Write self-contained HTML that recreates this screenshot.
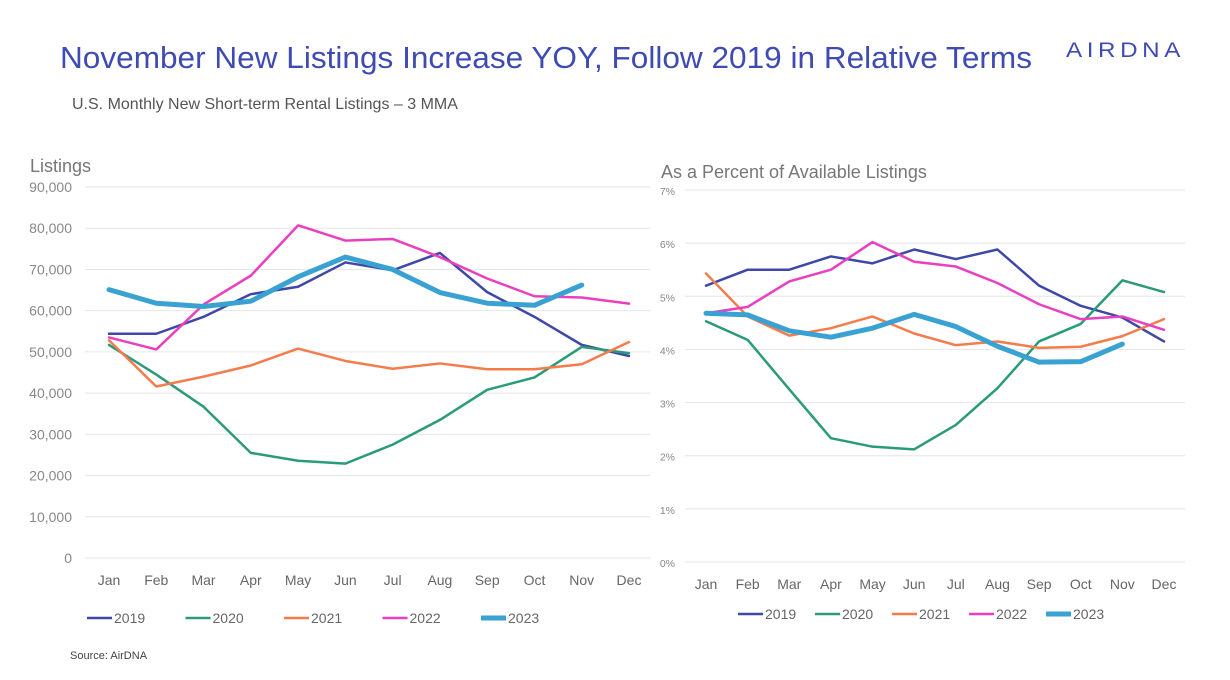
<!DOCTYPE html>
<html><head><meta charset="utf-8"><style>
body{margin:0;width:1230px;height:675px;background:#fff;font-family:"Liberation Sans",sans-serif;overflow:hidden}
svg text{font-family:"Liberation Sans",sans-serif}
</style></head><body>
<svg id="c" width="1230" height="675" xmlns="http://www.w3.org/2000/svg">
<text x="60" y="68" font-size="31" fill="#3e4bb3" textLength="972" lengthAdjust="spacingAndGlyphs">November New Listings Increase YOY, Follow 2019 in Relative Terms</text>
<text x="1066" y="57" font-size="21" fill="#3e4bb3" letter-spacing="4" textLength="119" lengthAdjust="spacingAndGlyphs">AIRDNA</text>
<text x="72" y="109" font-size="16" fill="#555">U.S. Monthly New Short-term Rental Listings – 3 MMA</text>
<text x="30" y="172" font-size="18" fill="#777">Listings</text>
<text x="661" y="178" font-size="18" fill="#777">As a Percent of Available Listings</text>
<text x="70" y="659" font-size="11" fill="#444">Source: AirDNA</text>
<g id="L"></g><g id="R"></g>
</svg>
<script>
const months=["Jan","Feb","Mar","Apr","May","Jun","Jul","Aug","Sep","Oct","Nov","Dec"];
const years=["2019","2020","2021","2022","2023"];
const colors=["#3f48a8","#2a9b78","#f47c4c","#ea3fc0","#3aa2d2"];
const widths=[2.5,2.5,2.5,2.5,5];
const leftTicks=[0,10000,20000,30000,40000,50000,60000,70000,80000,90000];
const rightTicks=[0,1,2,3,4,5,6,7];
const left2019=[54400,54400,58500,64000,65800,71700,69800,74000,64500,58500,51700,49000];
const left2020=[51700,44500,36700,25500,23600,22900,27500,33500,40800,43800,51200,49700];
const left2021=[52800,41600,44000,46700,50800,47800,45900,47200,45800,45800,47000,52400];
const left2022=[53500,50600,61500,68500,80700,77000,77400,73000,67800,63500,63200,61700];
const left2023=[65100,61800,61000,62300,68200,73000,70000,64400,61800,61300,66200];
const right2019=[5.2,5.5,5.5,5.75,5.62,5.88,5.7,5.88,5.2,4.82,4.6,4.15];
const right2020=[4.53,4.18,3.25,2.33,2.17,2.12,2.58,3.27,4.15,4.48,5.3,5.08];
const right2021=[5.43,4.62,4.26,4.4,4.62,4.3,4.08,4.15,4.03,4.05,4.25,4.57];
const right2022=[4.68,4.8,5.28,5.5,6.02,5.65,5.56,5.25,4.85,4.57,4.62,4.37];
const right2023=[4.68,4.65,4.35,4.23,4.4,4.66,4.43,4.06,3.76,3.77,4.1];
const NS="http://www.w3.org/2000/svg";
function mk(p,t,a){const e=document.createElementNS(NS,t);for(const k in a)e.setAttribute(k,a[k]);p.appendChild(e);return e;}
function draw(gid,o){
 const g=document.getElementById(gid);
 const x=i=>o.x0+i*(o.x1-o.x0)/11;
 const y=v=>o.y0-(v-o.vmin)/(o.vmax-o.vmin)*(o.y0-o.y1);
 o.ticks.forEach(t=>{
  const gl=mk(g,'line',{x1:o.gx0,x2:o.gx1,y1:y(t),y2:y(t),stroke:'#e6e6e6','stroke-width':1});
  
  
  const tl=mk(g,'text',{x:o.lx,y:y(t)+5,'text-anchor':'end','font-size':o.tfs,fill:'#888'});
  tl.textContent=o.fmt(t);
  
  
 });
 months.forEach((m,i)=>{
  const t=mk(g,'text',{x:x(i),y:o.y0+27,'text-anchor':'middle','font-size':14,fill:'#666'});
  t.textContent=m;
  
  
 });
 o.series.forEach((s,k)=>{
  const pl=mk(g,'polyline',{points:s.map((v,i)=>x(i)+','+y(v)).join(' '),fill:'none',stroke:colors[k],'stroke-width':widths[k],'stroke-linejoin':'round','stroke-linecap':'round'});
  
  
  const lx=o.legX+k*o.legStep;
  const ll=mk(g,'line',{x1:lx,x2:lx+25,y1:o.legY,y2:o.legY,stroke:colors[k],'stroke-width':widths[k]});
  
  
  const lt=mk(g,'text',{x:lx+27,y:o.legY+5,'font-size':14,fill:'#666'});
  lt.textContent=years[k];
  
  
 });
}
draw('L',{x0:109,x1:629,y0:558,y1:187,vmin:0,vmax:90000,gx0:85,gx1:650,lx:72,tfs:14,ticks:leftTicks,
 fmt:v=>v.toLocaleString('en-US'),series:[left2019,left2020,left2021,left2022,left2023],legX:87,legStep:98.5,legY:618});
draw('R',{x0:706,x1:1164,y0:562,y1:190,vmin:0,vmax:7,gx0:685,gx1:1185,lx:675,tfs:10.5,ticks:rightTicks,
 fmt:v=>v+'%',series:[right2019,right2020,right2021,right2022,right2023],legX:738,legStep:77,legY:614});
</script>
</body></html>
